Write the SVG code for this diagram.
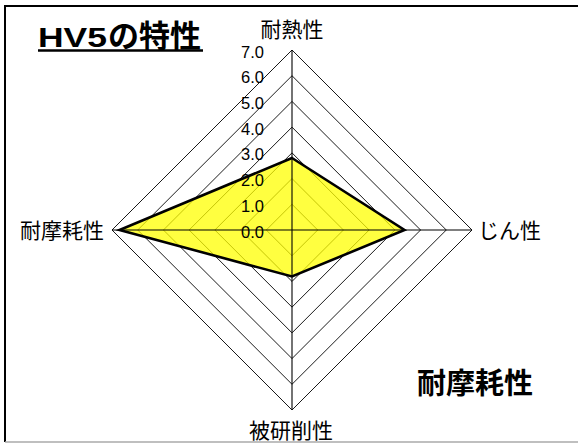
<svg xmlns="http://www.w3.org/2000/svg" width="578" height="443" viewBox="0 0 578 443">
<style>
.ring{fill:none;stroke:#000;stroke-width:0.9}
.axis{stroke:#000;stroke-width:1.1}
.num{font-family:"Liberation Sans","Noto Sans CJK JP",sans-serif;font-size:16.5px;fill:#000;text-anchor:end}
.lbl{font-family:"Noto Sans CJK JP","Liberation Sans",sans-serif;font-size:21px;fill:#000}
</style>
<rect x="0" y="0" width="578" height="443" fill="#fff"/>
<g id="frame">
<line x1="5" y1="6" x2="578" y2="6" stroke="#000" stroke-width="2"/>
<line x1="5" y1="5" x2="5" y2="442" stroke="#000" stroke-width="2"/>
<line x1="5" y1="442" x2="578" y2="442" stroke="#aaa" stroke-width="1.5"/>
</g>
<g id="grid">
<polygon class="ring" points="292,204.29 317.71,230 292,255.71 266.29,230"/>
<polygon class="ring" points="292,178.57 343.43,230 292,281.43 240.57,230"/>
<polygon class="ring" points="292,152.86 369.14,230 292,307.14 214.86,230"/>
<polygon class="ring" points="292,127.14 394.86,230 292,332.86 189.14,230"/>
<polygon class="ring" points="292,101.43 420.57,230 292,358.57 163.43,230"/>
<polygon class="ring" points="292,75.71 446.29,230 292,384.29 137.71,230"/>
<polygon class="ring" points="292,50 472,230 292,410 112,230"/>
</g>
<g id="series-fill">
<polygon points="292,158 404.5,230 292,276.5 119.5,230" fill="#ffff00" fill-opacity="0.75"/>
</g>
<g id="axes">
<line class="axis" x1="292" y1="50" x2="292" y2="410"/>
<line class="axis" x1="112" y1="230" x2="472" y2="230"/>
</g>
<g id="series-line">
<polygon points="292,158 404.5,230 292,276.5 119.5,230" fill="none" stroke="#000" stroke-width="2.6" stroke-linejoin="miter"/>
</g>
<g id="scale">
<text class="num" x="264" y="57.5">7.0</text>
<text class="num" x="264" y="83.2">6.0</text>
<text class="num" x="264" y="108.9">5.0</text>
<text class="num" x="264" y="134.6">4.0</text>
<text class="num" x="264" y="160.4">3.0</text>
<text class="num" x="264" y="186.1">2.0</text>
<text class="num" x="264" y="211.8">1.0</text>
<text class="num" x="264" y="237.5">0.0</text>
</g>
<g id="axis-labels">
<text class="lbl" x="292" y="37" text-anchor="middle">耐熱性</text>
<text class="lbl" x="478" y="238">じん性</text>
<text class="lbl" x="104" y="238" text-anchor="end">耐摩耗性</text>
<text class="lbl" x="291" y="437.5" text-anchor="middle">被研削性</text>
</g>
<g id="title">
<text x="38" y="47" font-family="Liberation Sans, sans-serif" font-weight="bold" font-size="28" textLength="69" lengthAdjust="spacingAndGlyphs">HV5</text>
<text x="108" y="47" font-family="Noto Sans CJK JP, sans-serif" font-weight="bold" font-size="31">の特性</text>
<line x1="38" y1="50.5" x2="203" y2="50.5" stroke="#000" stroke-width="2.5"/>
</g>
<g id="subtitle">
<text x="417" y="394" font-family="Noto Sans CJK JP, sans-serif" font-weight="bold" font-size="29">耐摩耗性</text>
</g>
</svg>
